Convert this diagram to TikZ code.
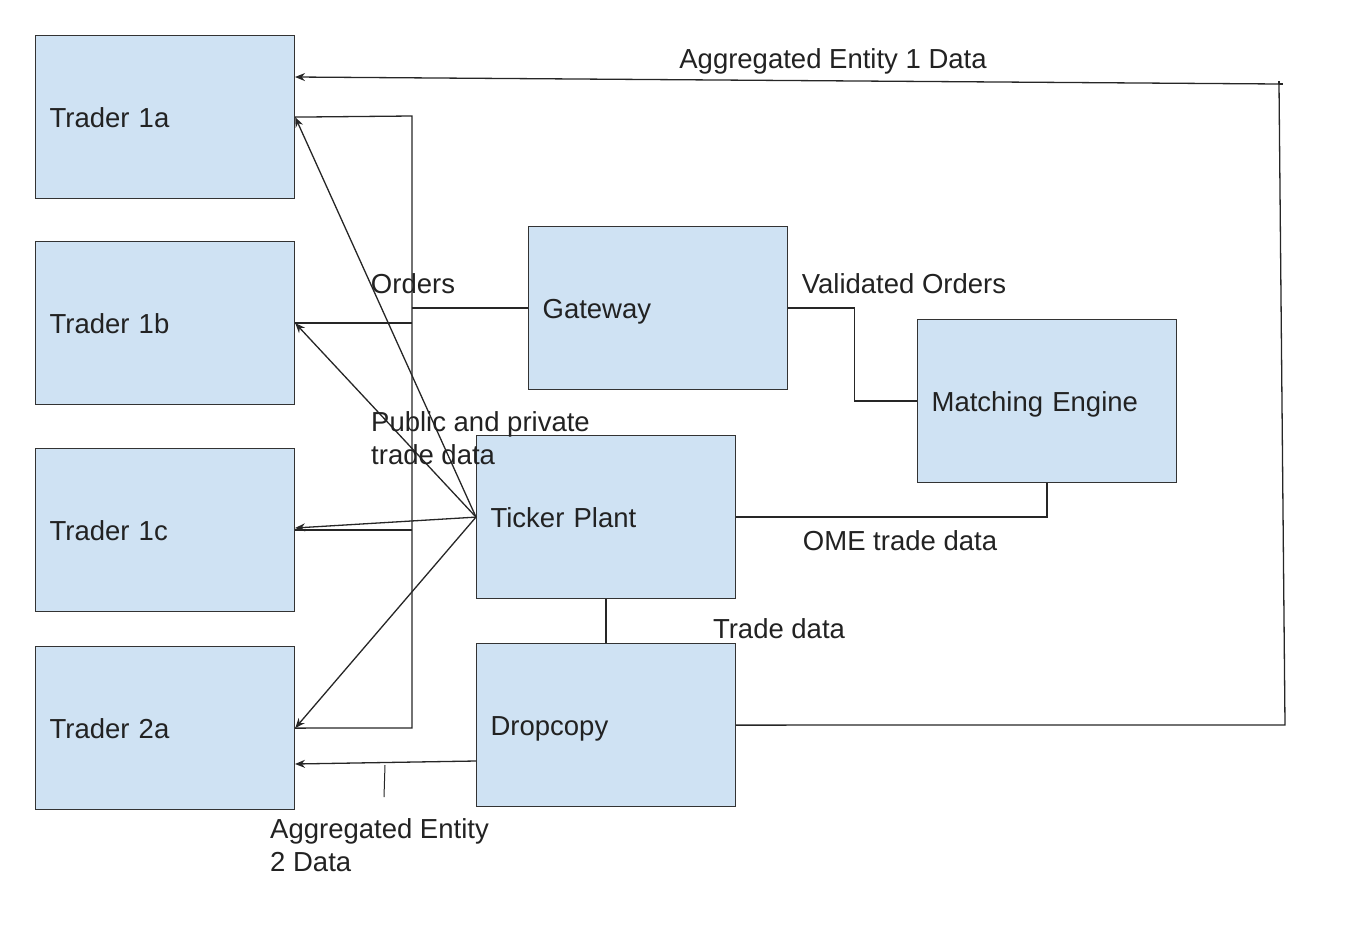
\documentclass[tikz,border=0pt]{standalone}
\usepackage{fontspec}
\setmainfont{Liberation Sans}
\usetikzlibrary{arrows.meta}
\definecolor{boxblue}{HTML}{CFE2F3}
\definecolor{ink}{HTML}{222222}
\begin{document}
\begin{tikzpicture}[x=1pt,y=-1pt,
  box/.style={draw=black!80, line width=1.2pt, fill=boxblue, rectangle, anchor=north west,
    minimum width=259pt, minimum height=163pt, text width=231pt, inner xsep=14pt, inner ysep=0pt,
    text height=20pt, text depth=0pt,
    align=left, font=\fontsize{27.5}{33}\selectfont, text=ink},
  conn/.style={draw=black!85, line width=1.3pt},
  arr/.style={conn, -{Stealth[length=10pt,width=8pt]}},
  lbl/.style={font=\fontsize{27.5}{33}\selectfont, text=ink, inner sep=0pt, align=left}]
\useasboundingbox (0,0) rectangle (1354,934);
% boxes
\node[box] (t1a) at (35,35) {Trader 1a};
\node[box] (t1b) at (35,241) {Trader 1b};
\node[box] (t1c) at (35,448) {Trader 1c};
\node[box] (t2a) at (35,646) {Trader 2a};
\node[box] (gw) at (528,226) {Gateway};
\node[box] (me) at (917,319) {Matching Engine};
\node[box] (tp) at (476,435) {Ticker Plant};
\node[box] (dc) at (476,643) {Dropcopy};
% coordinates
\coordinate (busTop) at (412,116);
\coordinate (busBot) at (412,728);
\coordinate (c1) at (1285,725);
\coordinate (c2) at (1279,84);
\coordinate (a1) at (295,77);
\coordinate (dl) at (476,761);
\coordinate (a2) at (295,764);
\coordinate (tk1) at (385,765);
\coordinate (tk2) at (384,797);
\coordinate (a1c) at (295,528);
% order bus from gateway
\draw[conn] (t1a.east) -- (busTop) -- (busBot) -- (t2a.east);
\draw[conn] (t1b.east) -- (t1b.east -| busTop);
\draw[conn] (t1c.east) -- (t1c.east -| busTop);
\draw[conn] (gw.west) -- (gw.west -| busTop);
% ticker plant fan
\draw[arr] (tp.west) -- (t1a.east);
\draw[arr] (tp.west) -- (t1b.east);
\draw[arr] (tp.west) -- (a1c);
\draw[arr] (tp.west) -- (t2a.east);
% gateway -> matching engine
\draw[conn] (gw.east) -- ++(66,0) |- (me.west);
% matching engine -> ticker plant
\draw[conn] (me.south) |- (tp.east);
% ticker plant -> dropcopy
\draw[conn] (tp.south) -- (dc.north);
% dropcopy -> trader 1a
\draw[arr] (dc.east) -- (c1) -- (c2) -- (a1);
\draw[conn] (c2) -- ++(4,0);
\draw[conn] (c2) -- ++(0,-3);
% dropcopy -> trader 2a
\draw[arr] (dl) -- (a2);
\draw[conn, line width=1pt] (tk1) -- (tk2);
% labels
\node[lbl] (l1) at (833,61) {Aggregated Entity 1 Data};
\node[lbl] (l2) at (413,284) {Orders};
\node[lbl] (l3) at (904,284) {Validated Orders};
\node[lbl, anchor=north west] (l4) at (371,411) {Public and private\\trade data};
\node[lbl] (l5) at (900,541) {OME trade data};
\node[lbl] (l6) at (779,629) {Trade data};
\node[lbl, anchor=north west] (l7) at (270,818) {Aggregated Entity\\2 Data};
\end{tikzpicture}
\end{document}
